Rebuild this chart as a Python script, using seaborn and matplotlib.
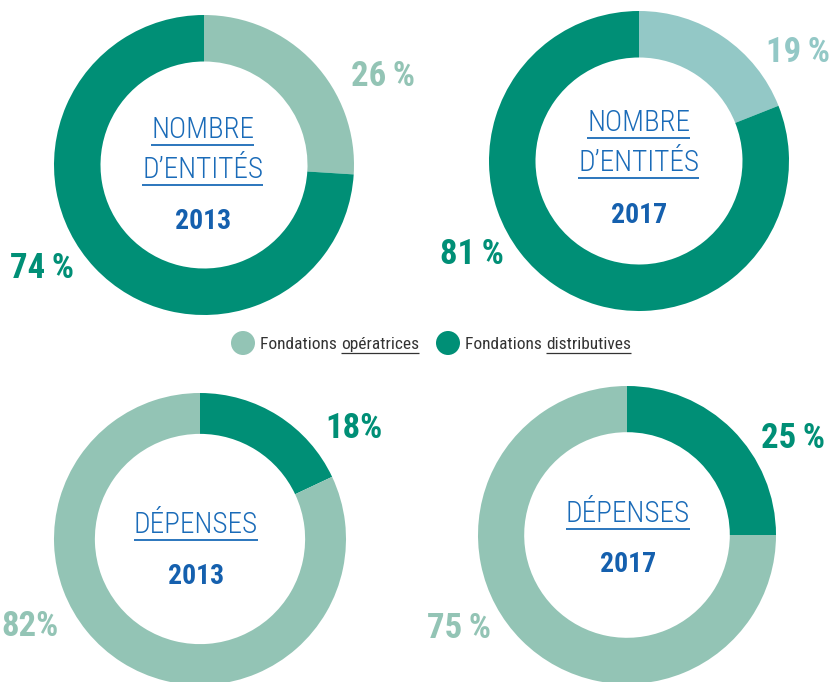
import matplotlib
matplotlib.use("Agg")
import matplotlib.pyplot as plt
from matplotlib import font_manager
from matplotlib.patches import Circle
import seaborn as sns

# Data: shares (opératrices, distributives) in percent
categories = ["Fondations opératrices", "Fondations distributives"]
nombre_2013 = [26, 74]
nombre_2017 = [19, 81]
depenses_2013 = [82, 18]
depenses_2017 = [75, 25]
years = ["2013", "2017", "2013", "2017"]
titles = [["NOMBRE", "D’ENTITÉS"], ["NOMBRE", "D’ENTITÉS"], ["DÉPENSES"], ["DÉPENSES"]]
pct_sep = ["\u2009", "\u2009", "", "\u2009"]

sns.set_theme(style="white")

# pick a condensed font if one is installed
names = {f.name for f in font_manager.fontManager.ttflist}
cond = None
for cand in ["Roboto Condensed", "Liberation Sans Narrow", "Open Sans Condensed"]:
    if cand in names:
        cond = cand
        break
if cond:
    FAM = [cond, "DejaVu Sans"]
    STRETCH = "normal"
else:
    FAM = ["DejaVu Sans"]
    STRETCH = "condensed"
plt.rcParams["font.family"] = FAM

DARK = "#008f76"
LIGHT = "#93c4b5"
LIGHT2 = "#93c8c6"
BLUE = "#1a6bb8"
BLUE_DARK = "#1560ae"

W, H = 833, 682
fig = plt.figure(figsize=(W / 100, H / 100), dpi=100)
fig.patch.set_facecolor("white")

# donut geometry in pixels (center x, center y, radius, ring width fraction)
panels = [
    dict(data=nombre_2013, cx=204, cy=165, r=150, w=0.31, light=LIGHT, dark_first=False),
    dict(data=nombre_2017, cx=639, cy=161, r=150, w=0.31, light=LIGHT2, dark_first=False),
    dict(data=depenses_2013, cx=200, cy=539, r=146, w=0.28, light=LIGHT, dark_first=True),
    dict(data=depenses_2017, cx=627, cy=535, r=149, w=0.31, light=LIGHT, dark_first=True),
]

for p in panels:
    cx, cy, r = p["cx"], p["cy"], p["r"]
    ax = fig.add_axes([(cx - r) / W, (H - cy - r) / H, 2 * r / W, 2 * r / H])
    vals = list(p["data"])
    cols = [p["light"], DARK]
    if p["dark_first"]:
        vals, cols = vals[::-1], cols[::-1]
    ax.pie(vals, colors=cols, startangle=90, counterclock=False,
           wedgeprops=dict(width=p["w"], linewidth=0))
    ax.set_xlim(-1, 1)
    ax.set_ylim(-1, 1)
    ax.set_aspect("equal")
    ax.axis("off")

# overlay axes in pixel coordinates for texts
ov = fig.add_axes([0, 0, 1, 1])
ov.set_xlim(0, W)
ov.set_ylim(H, 0)
ov.axis("off")
ov.patch.set_alpha(0)

renderer = fig.canvas.get_renderer()
inv = ov.transData.inverted()


def x_extent(t):
    bb = t.get_window_extent(renderer)
    (x0, _), (x1, _) = inv.transform([[bb.x0, bb.y0], [bb.x1, bb.y1]])
    return x0, x1


# titles and years (baselines in pixels)
title_pos = [
    dict(x=203, lines=[138, 178], year=229),
    dict(x=639, lines=[131, 171], year=223),
    dict(x=196, lines=[533], year=584),
    dict(x=628, lines=[522], year=572),
]
for tp, tl, yr in zip(title_pos, titles, years):
    for line, y in zip(tl, tp["lines"]):
        t = ov.text(tp["x"], y, line, ha="center", va="baseline", fontsize=21,
                    color=BLUE, fontweight="light", fontstretch=STRETCH)
        x0, x1 = x_extent(t)
        ov.plot([x0, x1], [y + 7, y + 7], color=BLUE, lw=1.3, solid_capstyle="butt")
    ov.text(tp["x"], tp["year"], yr, ha="center", va="baseline", fontsize=20,
            color=BLUE_DARK, fontweight="bold", fontstretch=STRETCH)

# percentage labels (light share, dark share)
label_pos = [
    [(383, 76), (42, 268)],
    [(798, 52), (472, 254)],
    [(30, 627), (354, 429)],
    [(459, 628), (793, 438)],
]
for p, lp, sep in zip(panels, label_pos, pct_sep):
    (xl, yl), (xd, yd) = lp
    ov.text(xl, yl, f"{p['data'][0]}{sep}%", ha="center", va="center",
            fontsize=25, fontweight="bold", color=p["light"], fontstretch=STRETCH)
    ov.text(xd, yd, f"{p['data'][1]}{sep}%", ha="center", va="center",
            fontsize=25, fontweight="bold", color=DARK, fontstretch=STRETCH)

# legend
leg_items = [(243, LIGHT, "Fondations ", "opératrices"),
             (448, DARK, "Fondations ", "distributives")]
for x, col, a, b in leg_items:
    ov.add_patch(Circle((x, 343), 12, color=col, lw=0))
    t1 = ov.text(x + 17, 349, a, ha="left", va="baseline", fontsize=12.5,
                 color="#333333", fontstretch=STRETCH)
    x_end = x_extent(t1)[1]
    t2 = ov.text(x_end, 349, b, ha="left", va="baseline", fontsize=12.5,
                 color="#333333", fontstretch=STRETCH)
    x0, x1 = x_extent(t2)
    ov.plot([x0, x1], [353, 353], color="#333333", lw=0.9, solid_capstyle="butt")

fig.savefig("out.png", dpi=100, facecolor="white")
